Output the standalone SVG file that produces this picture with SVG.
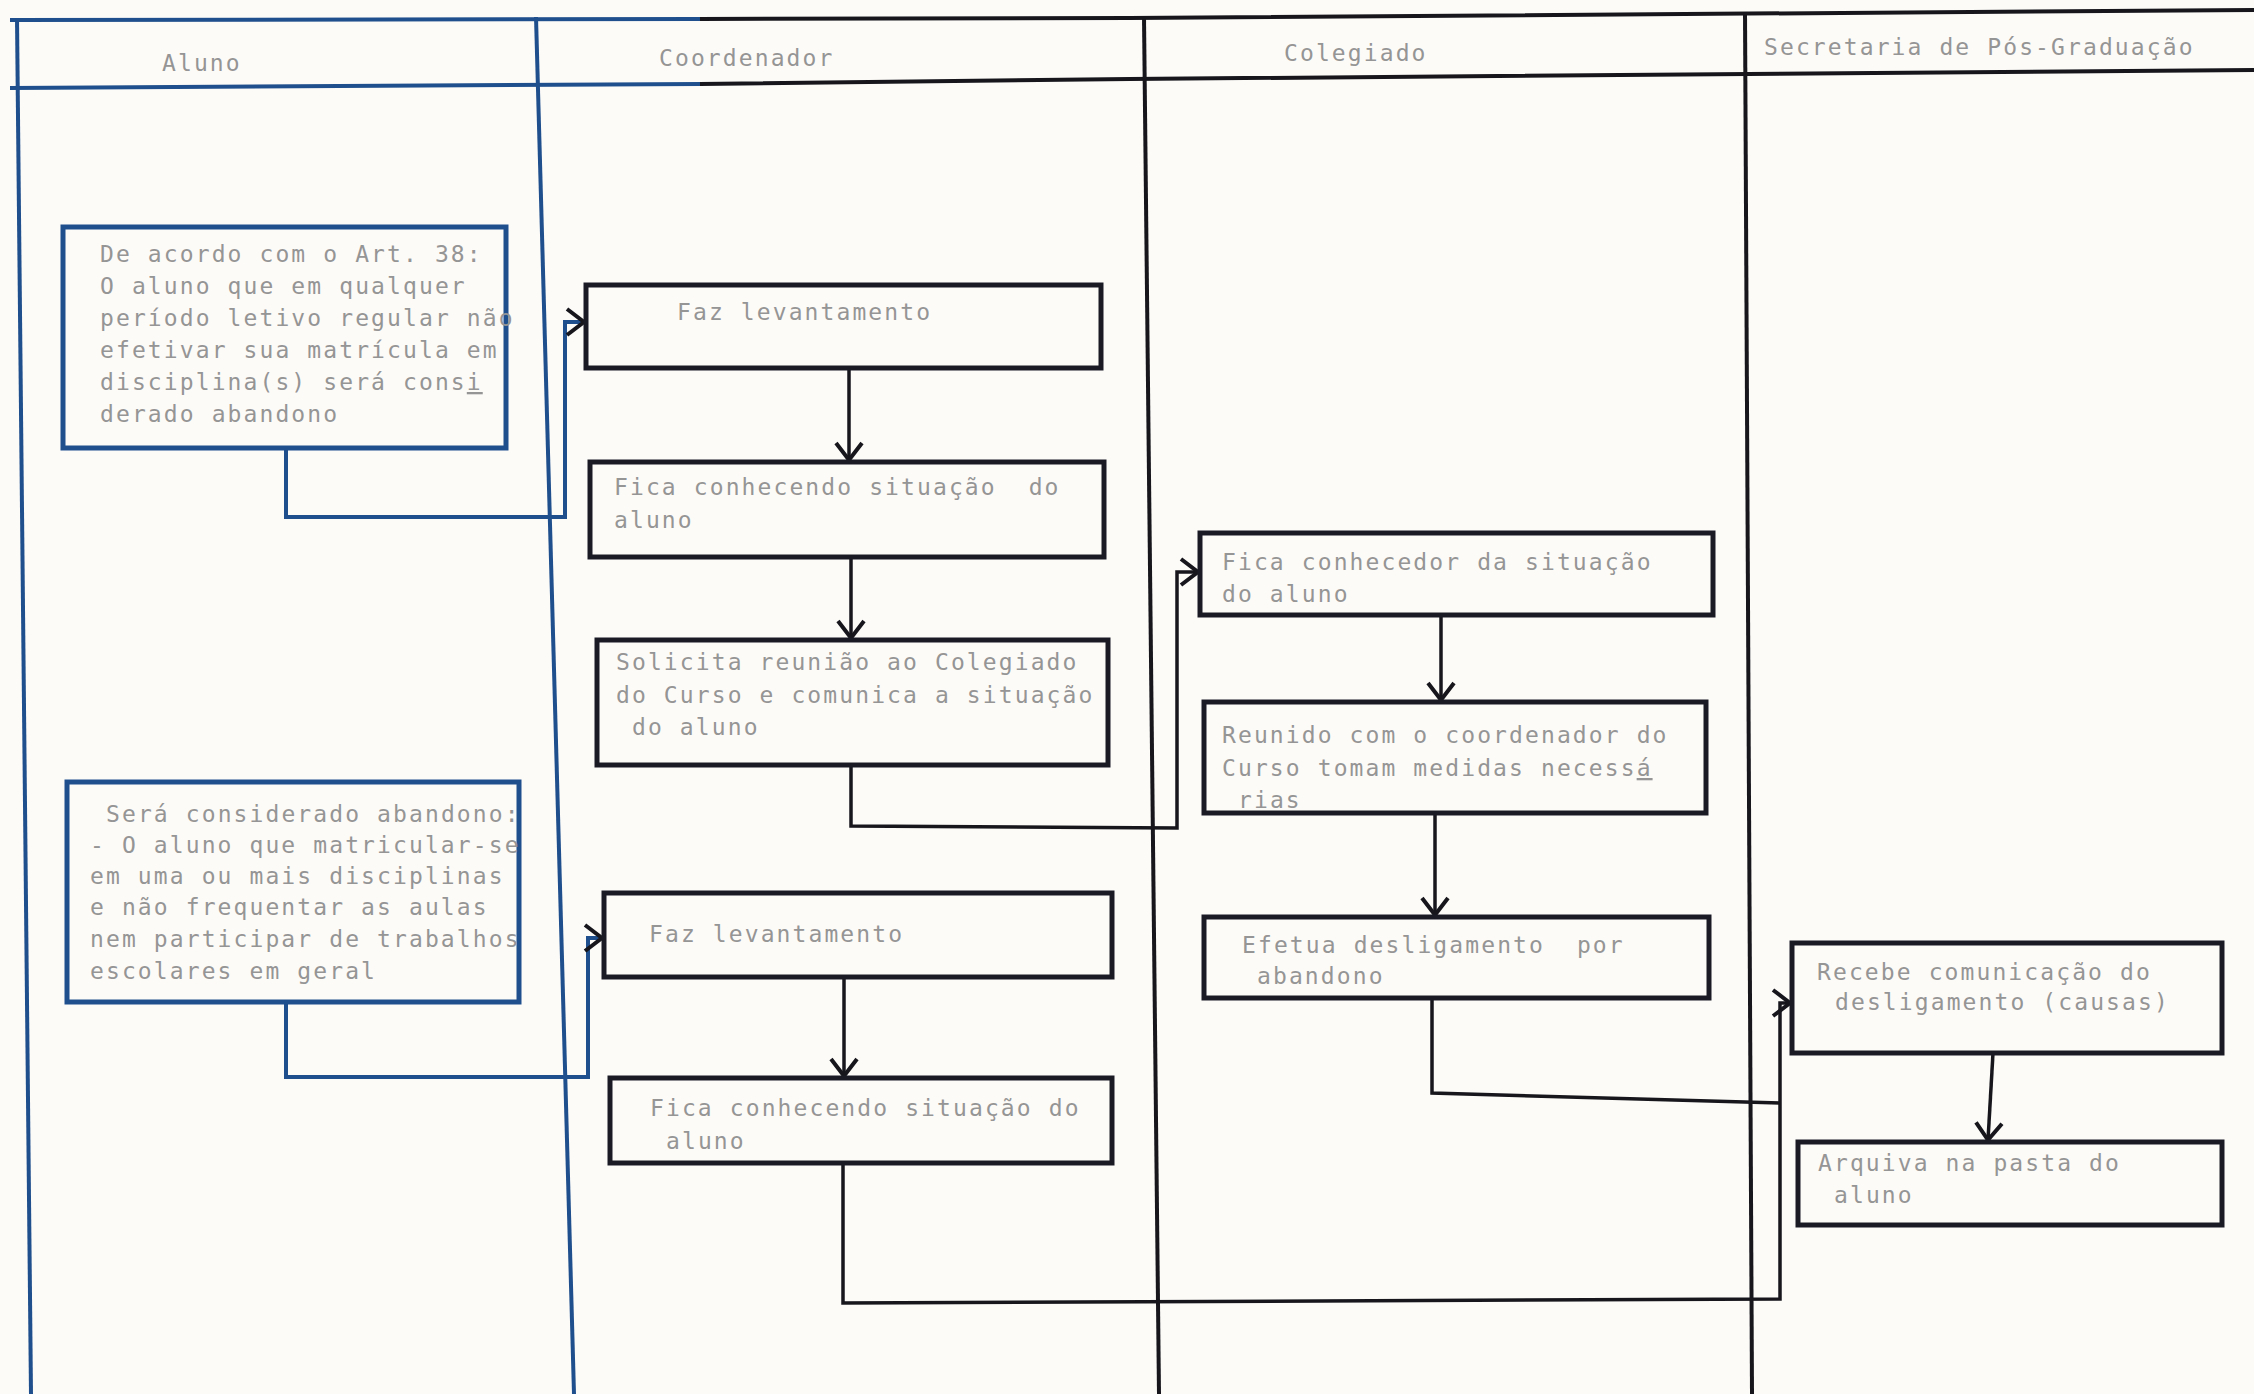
<svg xmlns="http://www.w3.org/2000/svg" width="2254" height="1394" viewBox="0 0 2254 1394">
<defs>
<style>
.t{font-family:"DejaVu Sans Mono","Liberation Mono",monospace;font-size:23px;letter-spacing:2.1px;fill:#959595}
.bb{fill:none;stroke:#1f4f8c;stroke-width:5}
.bk{fill:none;stroke:#1a1a24;stroke-width:5}
.lb{fill:none;stroke:#1f4f8c;stroke-width:4}
.lk{fill:none;stroke:#16161c;stroke-width:4}
.cb{fill:none;stroke:#1f4f8c;stroke-width:4;stroke-linejoin:miter}
.ck{fill:none;stroke:#16161c;stroke-width:3.5;stroke-linejoin:miter}
.u{text-decoration:underline}
</style>
<marker id="ah" markerUnits="userSpaceOnUse" markerWidth="26" markerHeight="34" refX="19" refY="15" orient="auto">
<path d="M2,2 L19,15 L2,28" fill="none" stroke="#16161c" stroke-width="4"/>
</marker>
</defs>
<rect width="2254" height="1394" fill="#fdfbf8"/>
<g id="frame">
<path class="lb" d="M10,20 L700,19"/>
<path class="lk" d="M700,19 L1130,18 L2254,10"/>
<path class="lb" d="M10,88 L700,84"/>
<path class="lk" d="M700,84 L1130,79 L2254,70"/>
<path class="lb" d="M17,18 L31,1394"/>
<path class="lb" d="M536,17 L574,1394"/>
<path class="lk" d="M1144,17 L1159,1394"/>
<path class="lk" d="M1745,12 L1752,1394"/>
<text class="t" x="162" y="71">Aluno</text>
<text class="t" x="659" y="66">Coordenador</text>
<text class="t" x="1284" y="61">Colegiado</text>
<text class="t" x="1764" y="55">Secretaria de Pós-Graduação</text>
</g>
<g id="connectors">
<path class="cb" d="M286,448 L286,517 L565,517 L565,322 L584,322" marker-end="url(#ah)"/>
<path class="cb" d="M286,1002 L286,1077 L588,1077 L588,938 L602,938" marker-end="url(#ah)"/>
<path class="ck" d="M849,368 L849,460" marker-end="url(#ah)"/>
<path class="ck" d="M851,557 L851,638" marker-end="url(#ah)"/>
<path class="ck" d="M851,765 L851,826 L1177,828 L1177,572 L1198,572" marker-end="url(#ah)"/>
<path class="ck" d="M844,977 L844,1076" marker-end="url(#ah)"/>
<path class="ck" d="M843,1163 L843,1303 L1780,1299 L1780,1003 L1790,1003" marker-end="url(#ah)"/>
<path class="ck" d="M1441,615 L1441,700" marker-end="url(#ah)"/>
<path class="ck" d="M1435,813 L1435,915" marker-end="url(#ah)"/>
<path class="ck" d="M1432,998 L1432,1093 L1780,1103"/>
<path class="ck" d="M1993,1053 L1988,1140" marker-end="url(#ah)"/>
</g>
<g id="n1">
<rect class="bb" x="63" y="227" width="443" height="221"/>
<text class="t" x="100" y="262">De acordo com o Art. 38:</text>
<text class="t" x="100" y="294">O aluno que em qualquer</text>
<text class="t" x="100" y="326">período letivo regular não</text>
<text class="t" x="100" y="358">efetivar sua matrícula em</text>
<text class="t" x="100" y="390">disciplina(s) será cons<tspan class="u">i</tspan></text>
<text class="t" x="100" y="422">derado abandono</text>
</g>
<g id="n2">
<rect class="bb" x="67" y="782" width="452" height="220"/>
<text class="t" x="106" y="822">Será considerado abandono:</text>
<text class="t" x="90" y="853">- O aluno que matricular-se</text>
<text class="t" x="90" y="884">em uma ou mais disciplinas</text>
<text class="t" x="90" y="915">e não frequentar as aulas</text>
<text class="t" x="90" y="947">nem participar de trabalhos</text>
<text class="t" x="90" y="979">escolares em geral</text>
</g>
<g id="n3">
<rect class="bk" x="586" y="285" width="515" height="83"/>
<text class="t" x="677" y="320">Faz levantamento</text>
</g>
<g id="n4">
<rect class="bk" x="590" y="462" width="514" height="95"/>
<text class="t" x="614" y="495" xml:space="preserve">Fica conhecendo situação  do</text>
<text class="t" x="614" y="528">aluno</text>
</g>
<g id="n5">
<rect class="bk" x="597" y="640" width="511" height="125"/>
<text class="t" x="616" y="670">Solicita reunião ao Colegiado</text>
<text class="t" x="616" y="703">do Curso e comunica a situação</text>
<text class="t" x="632" y="735">do aluno</text>
</g>
<g id="n6">
<rect class="bk" x="604" y="893" width="508" height="84"/>
<text class="t" x="649" y="942">Faz levantamento</text>
</g>
<g id="n7">
<rect class="bk" x="610" y="1078" width="502" height="85"/>
<text class="t" x="650" y="1116">Fica conhecendo situação do</text>
<text class="t" x="666" y="1149">aluno</text>
</g>
<g id="n8">
<rect class="bk" x="1200" y="533" width="513" height="82"/>
<text class="t" x="1222" y="570">Fica conhecedor da situação</text>
<text class="t" x="1222" y="602">do aluno</text>
</g>
<g id="n9">
<rect class="bk" x="1204" y="702" width="502" height="111"/>
<text class="t" x="1222" y="743">Reunido com o coordenador do</text>
<text class="t" x="1222" y="776">Curso tomam medidas necess<tspan class="u">á</tspan></text>
<text class="t" x="1238" y="808">rias</text>
</g>
<g id="n10">
<rect class="bk" x="1204" y="917" width="505" height="81"/>
<text class="t" x="1242" y="953" xml:space="preserve">Efetua desligamento  por</text>
<text class="t" x="1257" y="984">abandono</text>
</g>
<g id="n11">
<rect class="bk" x="1792" y="943" width="430" height="110"/>
<text class="t" x="1817" y="980">Recebe comunicação do</text>
<text class="t" x="1835" y="1010">desligamento (causas)</text>
</g>
<g id="n12">
<rect class="bk" x="1798" y="1142" width="424" height="83"/>
<text class="t" x="1818" y="1171">Arquiva na pasta do</text>
<text class="t" x="1834" y="1203">aluno</text>
</g>
</svg>
